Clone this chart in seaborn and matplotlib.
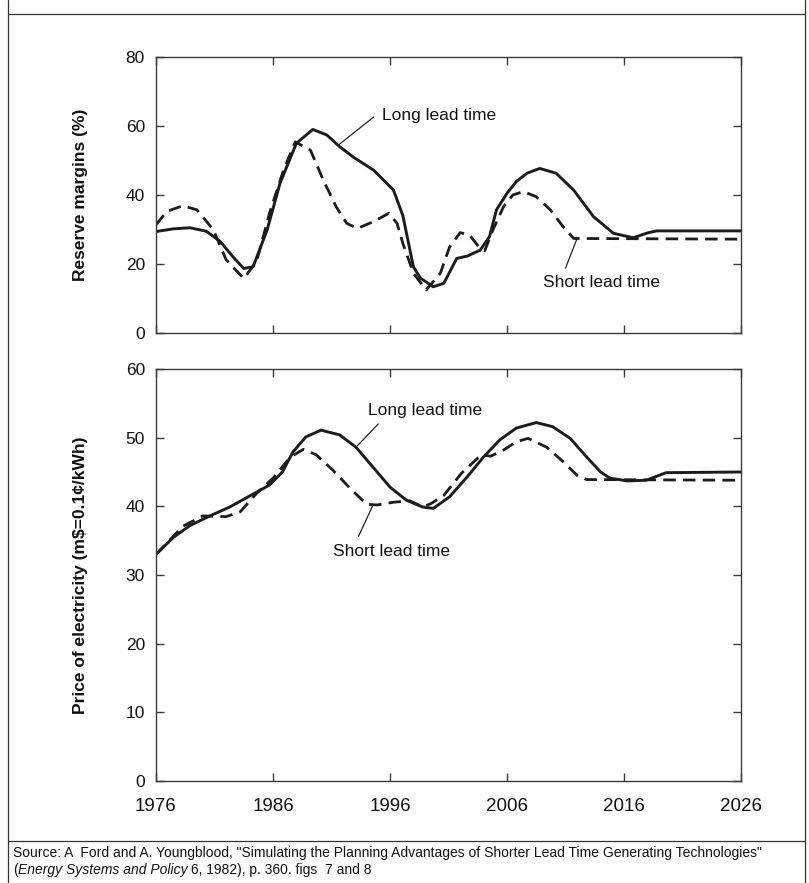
import matplotlib
matplotlib.use("Agg")
import matplotlib.pyplot as plt
import seaborn as sns
import pandas as pd
from matplotlib import font_manager
from matplotlib.lines import Line2D

# ---------------- data ----------------
year_ticks = [1976, 1986, 1996, 2006, 2016, 2026]
reserve_ticks = [0, 20, 40, 60, 80]
price_ticks = [0, 10, 20, 30, 40, 50, 60]

reserve_long_years = [1976, 1977.5, 1978.9, 1980.3, 1981.5, 1982.6, 1983.5, 1984.3, 1985.5,
                      1986.6, 1988.0, 1989.4, 1990.6, 1991.7, 1992.9, 1994.6, 1996.3, 1997.1,
                      1998.0, 1998.6, 1999.7, 2000.6, 2001.7, 2002.6, 2003.7, 2004.5, 2005.1,
                      2006.0, 2006.8, 2007.7, 2008.8, 2010.2, 2011.7, 2013.4, 2015.1, 2016.8,
                      2018.0, 2018.8, 2026]
reserve_long = [29.4, 30.2, 30.5, 29.5, 26.5, 22.0, 18.7, 19.2, 29.9,
                43.4, 55.0, 59.0, 57.4, 54.0, 50.9, 47.2, 41.4, 34.0,
                19.2, 15.9, 13.4, 14.4, 21.6, 22.3, 24.0, 27.9, 35.7,
                40.5, 43.9, 46.3, 47.7, 46.3, 41.4, 33.7, 28.9, 27.6,
                29.0, 29.6, 29.6]

reserve_short_years = [1976, 1976.9, 1978.3, 1979.5, 1980.9, 1982.0, 1983.5, 1984.6, 1985.7,
                       1986.9, 1987.9, 1989.2, 1990.3, 1991.4, 1992.3, 1993.2, 1994.6, 1995.9,
                       1996.6, 1997.1, 1998.0, 1999.1, 2000.3, 2001.1, 2002.0, 2002.8, 2003.7,
                       2004.1, 2004.8, 2005.7, 2006.5, 2007.4, 2008.5, 2009.7, 2010.8, 2011.7,
                       2026]
reserve_short = [31.3, 35.2, 36.9, 35.7, 29.9, 21.2, 15.8, 20.7, 34.7,
                 47.2, 55.4, 53.0, 44.3, 36.6, 31.8, 30.3, 32.3, 34.7,
                 31.8, 26.0, 17.3, 12.5, 17.3, 25.0, 29.1, 28.4, 24.5,
                 23.9, 29.9, 36.6, 40.0, 41.0, 39.5, 35.7, 30.8, 27.4,
                 27.2]

price_long_years = [1976, 1977.5, 1978.9, 1980.6, 1982.3, 1984.0, 1985.7, 1986.8, 1987.7,
                    1988.8, 1990.1, 1991.7, 1993.1, 1994.5, 1996.0, 1997.4, 1998.8, 1999.7,
                    2001.1, 2002.6, 2004.0, 2005.4, 2006.8, 2008.5, 2009.9, 2011.4, 2012.8,
                    2014.0, 2014.8, 2016.3, 2017.9, 2019.6, 2026]
price_long = [33.0, 35.5, 37.2, 38.6, 39.9, 41.5, 43.1, 45.0, 47.9,
              50.1, 51.1, 50.4, 48.6, 45.8, 42.8, 40.9, 39.9, 39.7,
              41.4, 44.3, 47.2, 49.7, 51.4, 52.2, 51.6, 49.9, 47.2,
              45.0, 44.1, 43.7, 43.8, 44.9, 45.0]

price_short_years = [1976, 1978.3, 1980.0, 1982.0, 1983.2, 1984.6, 1986.0, 1987.5, 1988.6,
                     1989.7, 1991.1, 1992.6, 1994.0, 1994.9, 1996.3, 1997.7, 1998.8, 1999.5,
                     2000.6, 2002.1, 2003.8, 2004.6, 2005.7, 2006.8, 2007.8, 2009.4, 2010.8,
                     2012.0, 2012.8, 2026]
price_short = [33.0, 37.1, 38.6, 38.5, 39.2, 41.9, 44.1, 47.2, 48.3,
               47.5, 45.3, 42.6, 40.3, 40.2, 40.6, 40.8, 39.9, 40.4,
               41.6, 44.8, 47.5, 47.3, 48.2, 49.4, 49.9, 48.6, 46.5,
               44.5, 43.9, 43.8]

label_long = "Long lead time"
label_short = "Short lead time"
ylabel_top = "Reserve margins (%)"
ylabel_bottom = "Price of electricity (m$=0.1¢/kWh)"
source_line1 = 'Source: A  Ford and A. Youngblood, "Simulating the Planning Advantages of Shorter Lead Time Generating Technologies"'
source_line2_a = "("
source_line2_b = "Energy Systems and Policy"
source_line2_c = " 6, 1982), p. 360. figs  7 and 8"

# ---------------- style ----------------
sns.set_theme(style="white")
plt.rcParams['font.family'] = ['Liberation Sans', 'DejaVu Sans']
names = {f.name for f in font_manager.fontManager.ttflist}
narrow = 'Liberation Sans Narrow' if 'Liberation Sans Narrow' in names else 'Liberation Sans'

W, H = 809, 883
fig = plt.figure(figsize=(W / 100, H / 100), dpi=100)
fig.patch.set_facecolor('white')

ax1 = fig.add_axes([156 / W, 1 - 333 / H, 585 / W, 276 / H])
ax2 = fig.add_axes([156 / W, 1 - 781 / H, 585 / W, 412 / H])

line_color = '#1c1c1c'
spine_color = '#3a3a3a'

def draw(ax, ly, lv, sy, sv):
    dl = pd.DataFrame({'year': ly, 'value': lv})
    ds = pd.DataFrame({'year': sy, 'value': sv})
    sns.lineplot(data=dl, x='year', y='value', ax=ax, color=line_color, lw=2.1,
                 estimator=None, sort=True)
    sns.lineplot(data=ds, x='year', y='value', ax=ax, color=line_color, lw=2.0,
                 estimator=None, sort=True, linestyle=(0, (4.5, 2.6)))

draw(ax1, reserve_long_years, reserve_long, reserve_short_years, reserve_short)
draw(ax2, price_long_years, price_long, price_short_years, price_short)

for ax, yt, ylab in [(ax1, reserve_ticks, ylabel_top), (ax2, price_ticks, ylabel_bottom)]:
    ax.set_xlim(year_ticks[0], year_ticks[-1])
    ax.set_ylim(yt[0], yt[-1])
    ax.set_xticks(year_ticks)
    ax.set_yticks(yt)
    ax.set_yticklabels([str(v) for v in yt], fontsize=12.5, color='#111111')
    ax.tick_params(axis='both', which='both', direction='in', length=6, width=1,
                   color=spine_color, top=True, right=True, bottom=True, left=True)
    ax.tick_params(axis='y', pad=8)
    for sp in ax.spines.values():
        sp.set_visible(True)
        sp.set_color(spine_color)
        sp.set_linewidth(1.0)
    ax.set_xlabel('')
    ax.set_ylabel(ylab, fontsize=12.5, fontweight='bold', color='#111111')
    ax.yaxis.set_label_coords((88 - 156) / 585, 0.5)
    ax.set_facecolor('white')
    ax.grid(False)

ax1.set_xticklabels([])
ax2.set_xticklabels([str(v) for v in year_ticks], fontsize=13.5, family=narrow, color='#111111')
ax2.tick_params(axis='x', pad=12)

ann_kw = dict(fontsize=12.5, color='#111111', va='center', ha='left')
arrow_kw = dict(arrowstyle='-', color='#222222', lw=0.9, shrinkA=0, shrinkB=0)

ax1.text(1995.3, 62.9, label_long, **ann_kw)
ax1.annotate('', xy=(1991.6, 54.5), xytext=(1994.6, 62.6), arrowprops=arrow_kw)
ax1.text(2009.1, 14.5, label_short, **ann_kw)
ax1.annotate('', xy=(2012.0, 27.5), xytext=(2011.0, 18.8), arrowprops=arrow_kw)

ax2.text(1994.1, 53.9, label_long, **ann_kw)
ax2.annotate('', xy=(1995.0, 52.0), xytext=(1993.2, 48.8), arrowprops=arrow_kw)
ax2.text(1991.1, 33.4, label_short, **ann_kw)
ax2.annotate('', xy=(1994.5, 40.0), xytext=(1993.3, 35.6), arrowprops=arrow_kw)

# frame lines
frame_color = '#333333'
for (x0, y0, x1, y1) in [(8, 0, 8, H), (805, 0, 805, H), (8, 14, 805, 14), (8, 841, 805, 841)]:
    fig.add_artist(Line2D([x0 / W, x1 / W], [1 - y0 / H, 1 - y1 / H],
                          transform=fig.transFigure, color=frame_color, lw=0.9))

# source text
src_fs = 10.0
fig.text(13 / W, 1 - 853 / H, source_line1, fontsize=src_fs, family=narrow,
         va='center', ha='left', color='#111111')
fig.canvas.draw()
renderer = fig.canvas.get_renderer()
x = 13
for txt, style in [(source_line2_a, 'normal'), (source_line2_b, 'italic'), (source_line2_c, 'normal')]:
    t = fig.text(x / W, 1 - 870 / H, txt, fontsize=src_fs, family=narrow, style=style,
                 va='center', ha='left', color='#111111')
    bb = t.get_window_extent(renderer=renderer)
    x += bb.width

fig.savefig('out.png', dpi=100, facecolor='white')
